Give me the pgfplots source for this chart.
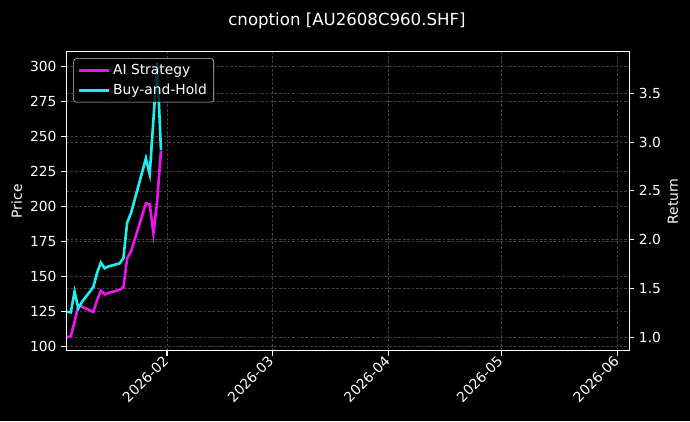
\documentclass[border=0pt]{standalone}
\usepackage{fontspec}
\setmainfont{DejaVu Sans}
\usepackage{pgfplots}
\pgfplotsset{compat=1.18}

\definecolor{gridc}{RGB}{64,64,64}
\definecolor{aimag}{RGB}{238,20,238}
\definecolor{bhcyan}{RGB}{30,238,238}

\pgfplotsset{
  darkax/.style={
    scale only axis, width=406.9pt, height=216.1pt,
    at={(47.9pt,50.8pt)}, anchor=south west,
    xmin=4.19, xmax=154.09,
    axis line style={white, line width=0.8pt},
    tick style={white, line width=0.8pt},
    tick align=outside, major tick length=3.5pt,
    ticklabel style={white, font=\fontsize{10}{12}\selectfont},
    /pgf/number format/assume math mode=true,
    label style={white, font=\fontsize{10}{12}\selectfont},
    grid style={gridc, dash pattern=on 2pt off 1.2pt, line width=0.5pt},
  }
}

\begin{document}
\begin{tikzpicture}
\path[use as bounding box, fill=black] (0,0) rectangle (498.7pt,304.3pt);

% right axis: Return
\begin{axis}[darkax,
    axis y line*=right, axis x line=none,
    ymin=0.863, ymax=3.926,
    ytick={1,1.5,2,2.5,3,3.5},
    yticklabel style={/pgf/number format/.cd, fixed, fixed zerofill, precision=1},
    xtick=\empty,
    ymajorgrids,
    ylabel={Return},
    ylabel style={at={(axis description cs:1.0776,0.5)}, anchor=center},
]
\addplot[draw=none, forget plot] coordinates {(10,1)};
\end{axis}

% left axis: Price
\begin{axis}[darkax,
    ymin=97.15, ymax=310.2,
    ytick={100,125,150,175,200,225,250,275,300},
    ytick pos=left, xtick pos=bottom,
    xtick={31,59,90,120,151},
    xticklabels={2026-02,2026-03,2026-04,2026-05,2026-06},
    x tick label style={xshift=-3.6pt, yshift=5.5pt, rotate=45, anchor=north east},
    xmajorgrids, ymajorgrids,
    ylabel={Price},
    ylabel style={at={(axis description cs:-0.0881,0.5)}, anchor=center},
    legend style={at={(0.0124,0.978)}, anchor=north west,
      fill=black, fill opacity=0.8, text opacity=1, draw opacity=1,
      draw=white!78!black, rounded corners=2pt, text=white,
      font=\fontsize{10}{12}\selectfont,
      inner xsep=3pt, inner ysep=2pt, row sep=1.5pt},
    legend cell align=left,
    legend image code/.code={\draw[#1, line width=1.9pt] (0pt,0pt) -- (21.7pt,0pt);},
]
\addplot[aimag, line width=1.9pt] coordinates {
  (4.4,106.7) (5.4,107.5) (6.4,118.0) (7.4,129.5) (8.4,128.5)
  (11.4,124.8) (12.4,133.3) (13.4,139.9) (14.4,137.3) (15.4,138.3)
  (18.4,140.6) (19.4,142.3) (20.4,163.0) (21.4,167.7) (22.4,176.3)
  (25.4,202.2) (26.4,201.5) (27.4,180.8) (28.4,204.0) (29.4,239.7)
};
\addlegendentry{AI Strategy}
\addplot[bhcyan, line width=1.9pt] coordinates {
  (4.4,124.9) (5.4,124.5) (6.4,139.2) (7.4,127.4) (8.4,132.1)
  (11.4,142.5) (12.4,152.7) (13.4,159.9) (14.4,155.9) (15.4,157.2)
  (18.4,159.4) (19.4,163.0) (20.4,188.4) (21.4,195.0) (22.4,204.8)
  (25.4,234.2) (26.4,223.0) (27.4,262.0) (28.4,302.0) (29.4,240.1)
};
\addlegendentry{Buy-and-Hold}
\end{axis}

\node[white, font=\fontsize{12}{14}\selectfont, anchor=base] at (250.8pt,286.2pt) {cnoption [AU2608C960.SHF]};
\end{tikzpicture}
\end{document}
